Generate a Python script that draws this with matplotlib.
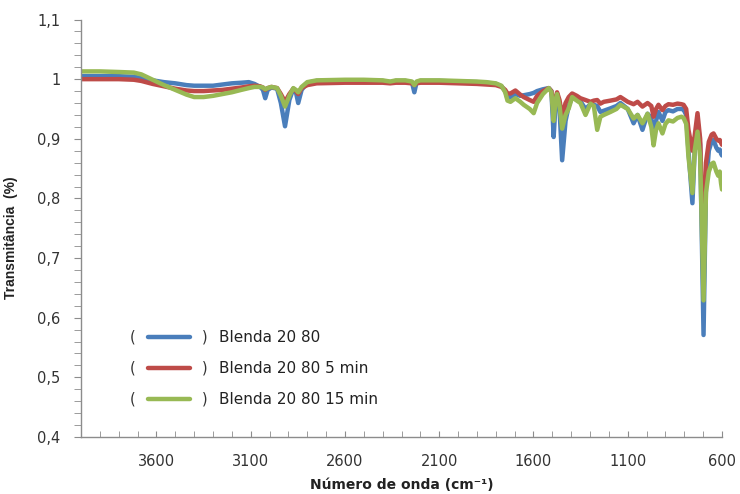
import matplotlib
matplotlib.use("Agg")
import matplotlib.pyplot as plt
from matplotlib.ticker import MultipleLocator, FixedLocator

# FTIR spectra - wavenumber (cm-1) and transmittance for the three blends
wavenumber = [4000, 3900, 3800, 3720, 3680, 3620, 3560, 3500, 3440, 3400,
              3350, 3300, 3250, 3200, 3150, 3110, 3080, 3050, 3035, 3023,
              3010, 2990, 2960, 2940, 2918, 2895, 2874, 2860, 2848, 2830,
              2800, 2750, 2600, 2500, 2400, 2360, 2330, 2280, 2245, 2232,
              2220, 2200, 2100, 2000, 1900, 1850, 1800, 1770, 1750, 1738,
              1722, 1696, 1670, 1652, 1620, 1599, 1581, 1550, 1519, 1505,
              1493, 1483, 1475, 1462, 1448, 1430, 1413, 1395, 1370, 1351,
              1324, 1298, 1280, 1262, 1245, 1227, 1192, 1160, 1139, 1100,
              1069, 1048, 1022, 995, 975, 963, 950, 937, 916, 900,
              884, 860, 836, 815, 804, 790, 778, 757, 745, 730,
              716, 698, 685, 670, 655, 645, 630, 620, 612, 605, 600]

blenda_20_80 = [1.005, 1.005, 1.005, 1.004, 1.002, 0.998, 0.995, 0.993, 0.990, 0.989,
                0.989, 0.989, 0.991, 0.993, 0.994, 0.995, 0.992, 0.987, 0.982, 0.968,
                0.982, 0.986, 0.984, 0.960, 0.921, 0.965, 0.984, 0.978, 0.960, 0.982,
                0.994, 0.997, 0.998, 0.998, 0.997, 0.995, 0.997, 0.997, 0.995, 0.978,
                0.995, 0.997, 0.997, 0.996, 0.995, 0.994, 0.992, 0.988, 0.980, 0.968,
                0.970, 0.975, 0.972, 0.973, 0.975, 0.977, 0.980, 0.983, 0.985, 0.980,
                0.903, 0.960, 0.975, 0.950, 0.864, 0.930, 0.955, 0.970, 0.965, 0.963,
                0.950, 0.958, 0.957, 0.955, 0.945, 0.947, 0.951, 0.955, 0.960, 0.950,
                0.926, 0.940, 0.915, 0.942, 0.935, 0.906, 0.930, 0.945, 0.930, 0.945,
                0.948, 0.946, 0.950, 0.950, 0.949, 0.940, 0.880, 0.792, 0.880, 0.930,
                0.890, 0.571, 0.820, 0.880, 0.896, 0.898, 0.885, 0.880, 0.882, 0.875, 0.872]

blenda_20_80_5min = [1.000, 1.000, 1.000, 0.999, 0.997, 0.992, 0.988, 0.984, 0.981, 0.980,
                     0.980, 0.981, 0.982, 0.984, 0.986, 0.988, 0.989, 0.988, 0.986, 0.982,
                     0.985, 0.987, 0.985, 0.975, 0.962, 0.975, 0.984, 0.980, 0.975, 0.985,
                     0.990, 0.993, 0.994, 0.994, 0.994, 0.993, 0.994, 0.994, 0.993, 0.990,
                     0.993, 0.994, 0.994, 0.993, 0.992, 0.991, 0.990, 0.987, 0.982, 0.976,
                     0.976, 0.981, 0.974, 0.970, 0.965, 0.962, 0.972, 0.980, 0.985, 0.980,
                     0.950, 0.968, 0.978, 0.965, 0.937, 0.960, 0.970, 0.976, 0.972, 0.968,
                     0.965, 0.962, 0.964, 0.965, 0.959, 0.962, 0.964, 0.966, 0.970, 0.962,
                     0.958, 0.962, 0.954, 0.960, 0.955, 0.937, 0.950, 0.957, 0.948, 0.955,
                     0.958, 0.957, 0.959, 0.958, 0.957, 0.950, 0.915, 0.880, 0.905, 0.943,
                     0.900, 0.700, 0.860, 0.895, 0.907, 0.909, 0.900, 0.897, 0.898, 0.893, 0.890]

blenda_20_80_15min = [1.013, 1.013, 1.012, 1.011, 1.008, 0.999, 0.990, 0.982, 0.974, 0.970,
                      0.970, 0.972, 0.975, 0.978, 0.982, 0.985, 0.987, 0.987, 0.986, 0.983,
                      0.985, 0.987, 0.985, 0.972, 0.954, 0.972, 0.985, 0.982, 0.978, 0.987,
                      0.995, 0.998, 0.999, 0.999, 0.998, 0.996, 0.998, 0.998, 0.996, 0.990,
                      0.996, 0.998, 0.998, 0.997, 0.996, 0.995, 0.993, 0.989, 0.978, 0.964,
                      0.962, 0.968, 0.962, 0.957, 0.950, 0.943, 0.960, 0.975, 0.985, 0.978,
                      0.930, 0.965, 0.975, 0.955, 0.917, 0.940, 0.951, 0.970, 0.964, 0.960,
                      0.940, 0.959, 0.955, 0.915, 0.937, 0.940, 0.945, 0.950, 0.957, 0.950,
                      0.934, 0.940, 0.926, 0.942, 0.920, 0.889, 0.915, 0.926, 0.909, 0.925,
                      0.931, 0.929, 0.935, 0.937, 0.935, 0.925, 0.870, 0.809, 0.880, 0.912,
                      0.870, 0.629, 0.810, 0.845, 0.858, 0.860, 0.845, 0.838, 0.845, 0.825, 0.815]

series_labels = ["Blenda 20 80", "Blenda 20 80 5 min", "Blenda 20 80 15 min"]
series_colors = ["#4a7ebb", "#be4b48", "#98b954"]

fig = plt.figure(figsize=(7.4, 4.94), dpi=100)
ax = fig.add_axes([0.1095, 0.1154, 0.8662, 0.8451])

for values, color in zip([blenda_20_80, blenda_20_80_5min, blenda_20_80_15min], series_colors):
    ax.plot(wavenumber, values, color=color, lw=3.2, solid_joinstyle="round",
            solid_capstyle="round")

ax.set_xlim(4000, 600)
ax.set_ylim(0.4, 1.1)

ax.xaxis.set_major_locator(FixedLocator([3600, 3100, 2600, 2100, 1600, 1100, 600]))
ax.xaxis.set_minor_locator(MultipleLocator(100))
ax.yaxis.set_major_locator(MultipleLocator(0.1))
ax.yaxis.set_minor_locator(MultipleLocator(0.02))


def comma_fmt(v, pos):
    s = f"{v:.1f}".replace(".", ",")
    return "1" if s == "1,0" else s


ax.yaxis.set_major_formatter(plt.FuncFormatter(comma_fmt))

for side in ["top", "right"]:
    ax.spines[side].set_visible(False)
for side in ["left", "bottom"]:
    ax.spines[side].set_color("#8c8c8c")
    ax.spines[side].set_linewidth(1.0)

ax.tick_params(axis="x", which="both", direction="in", length=4, color="#8c8c8c",
               labelsize=10.5, labelcolor="#333333", pad=12)
ax.tick_params(axis="y", which="both", direction="out", length=5, color="#8c8c8c",
               labelsize=10.5, labelcolor="#333333", pad=10)

ax.set_xlabel("Número de onda (cm⁻¹)", fontsize=10, fontweight="bold", color="#222222",
              va="center")
ax.xaxis.set_label_coords(0.5, -0.115)
ax.set_ylabel("Transmitância  (%)", fontsize=10, fontweight="bold", color="#222222",
              family="Liberation Sans")
ax.yaxis.set_label_coords(-0.098, 0.477)

# legend drawn by hand: "(  line  )  label"
rows = [0.2395, 0.165, 0.091]
for label, color, yy in zip(series_labels, series_colors, rows):
    ax.text(0.081, yy, "(", transform=ax.transAxes, ha="center", va="center",
            fontsize=10.5, color="#333333")
    ax.plot([0.105, 0.170], [yy, yy], transform=ax.transAxes, color=color, lw=3.2,
            solid_capstyle="round")
    ax.text(0.193, yy, ")", transform=ax.transAxes, ha="center", va="center",
            fontsize=10.5, color="#333333")
    ax.text(0.215, yy, label, transform=ax.transAxes, ha="left", va="center",
            fontsize=11, color="#222222")

fig.savefig("out.png", dpi=100)
